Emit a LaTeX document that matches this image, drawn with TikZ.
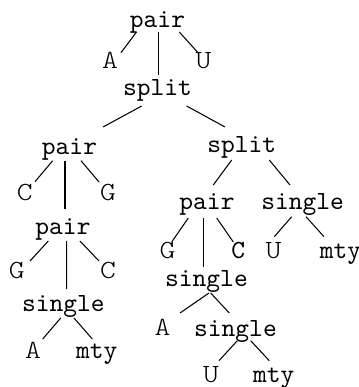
\documentclass[tikz,border=0pt]{standalone}
\usepackage{fontspec}
\newfontfamily\leaffont[FakeStretch=1.15]{lmmonolt10-regular.otf}
\usetikzlibrary{calc}
\begin{document}
\begin{tikzpicture}[x=0.3817pt, y=-0.3817pt,
  ctor/.style={font=\ttfamily, inner sep=0pt, anchor=base},
  leaf/.style={font=\leaffont, inner sep=0pt, anchor=base},
  darkleaf/.style={font=\ttfamily, inner sep=0pt, anchor=base},
  branch/.style={line width=0.4pt}]
\useasboundingbox (0,0) rectangle (359,387);

% constructors
\node[ctor] (p1)  at (157.5,27)  {pair};
\node[ctor] (s1)  at (157.5,95)  {split};
\node[ctor] (p2)  at (69.5,154)  {pair};
\node[ctor] (s2)  at (241.7,152) {split};
\node[ctor] (p3)  at (63,234)    {pair};
\node[ctor] (si1) at (63.3,311.7) {single};
\node[ctor] (p4)  at (207,209)   {pair};
\node[ctor] (si2) at (302.7,209) {single};
\node[ctor] (si3) at (206.5,286.7) {single};
\node[ctor] (si4) at (235.5,336) {single};
\node[ctor] (m1)  at (96.7,358)  {mty};
\node[ctor] (m2)  at (340.5,258) {mty};
\node[ctor] (m3)  at (273.7,382) {mty};

% bases
\node[leaf] (a1) at (110,68)    {A};
\node[leaf] (u1) at (203.5,68)  {U};
\node[leaf] (c1) at (24.7,200)  {C};
\node[leaf] (g1) at (108,200)   {G};
\node[leaf] (g2) at (16.7,278)  {G};
\node[leaf] (c2) at (108,278)   {C};
\node[leaf] (a2) at (33,358)    {A};
\node[leaf] (g3) at (167.5,258) {G};
\node[darkleaf] (c3) at (238.3,258) {C};
\node[leaf] (u2) at (273.5,258) {U};
\node[leaf] (a3) at (162.5,335) {A};
\node[leaf] (u3) at (211,382)   {U};

% branches
\draw[branch] ($(p1.base)+(-20.8,4.7)$) -- ($(a1.base)+(11,-15.3)$);
\draw[branch] ($(p1.base)+(0.8,4.7)$)   -- ($(s1.base)+(0.8,-20)$);
\draw[branch] ($(p1.base)+(21.8,5)$)    -- ($(u1.base)+(-5.2,-15)$);

\draw[branch] ($(s1.base)+(-15.8,11)$)  -- ($(p2.base)+(33.5,-27)$);
\draw[branch] ($(s1.base)+(29.2,11)$)   -- ($(s2.base)+(-16.7,-25)$);

\draw[branch] ($(p2.base)+(-16.8,6.7)$) -- ($(c1.base)+(10.3,-18.3)$);
\draw[branch] ($(p2.base)+(-4.5,6.7)$)  -- ($(p3.base)+(2,-25)$);
\draw[branch] ($(p2.base)+(11.5,6.7)$)  -- ($(g1.base)+(-9,-18)$);

\draw[branch] ($(p3.base)+(-14.7,7)$)   -- ($(g2.base)+(13.3,-17)$);
\draw[branch] ($(p3.base)+(3.7,7)$)     -- ($(si1.base)+(3.4,-22.7)$);
\draw[branch] ($(p3.base)+(17,7)$)      -- ($(c2.base)+(-9,-17)$);

\draw[branch] ($(si1.base)+(-2.6,6.3)$) -- ($(a2.base)+(9.7,-19)$);
\draw[branch] ($(si1.base)+(10.7,6.3)$) -- ($(m1.base)+(-4.4,-19)$);

\draw[branch] ($(s2.base)+(-10,8)$)     -- ($(p4.base)+(6.3,-24)$);
\draw[branch] ($(s2.base)+(27.6,8)$)    -- ($(si2.base)+(-12.7,-24)$);

\draw[branch] ($(si2.base)+(-11,7.7)$)  -- ($(u2.base)+(0.8,-21.3)$);
\draw[branch] ($(si2.base)+(3.3,7.7)$)  -- ($(m2.base)+(-16.5,-21.3)$);

\draw[branch] ($(p4.base)+(-18.7,9)$)   -- ($(g3.base)+(4.2,-16)$);
\draw[branch] ($(p4.base)+(-3.7,9)$)    -- ($(si3.base)+(-3.2,-19.7)$);
\draw[branch] ($(p4.base)+(9.7,9)$)     -- ($(c3.base)+(-5,-16)$);

\draw[branch] ($(si3.base)+(2.5,6.3)$)  -- ($(a3.base)+(17.5,-22)$);
\draw[branch] ($(si3.base)+(4.2,6.3)$)  -- ($(si4.base)+(-6.2,-23)$);

\draw[branch] ($(si4.base)+(1.8,4.7)$)  -- ($(u3.base)+(8,-21.3)$);
\draw[branch] ($(si4.base)+(15.2,4.7)$) -- ($(m3.base)+(-4.4,-21.3)$);
\end{tikzpicture}
\end{document}
